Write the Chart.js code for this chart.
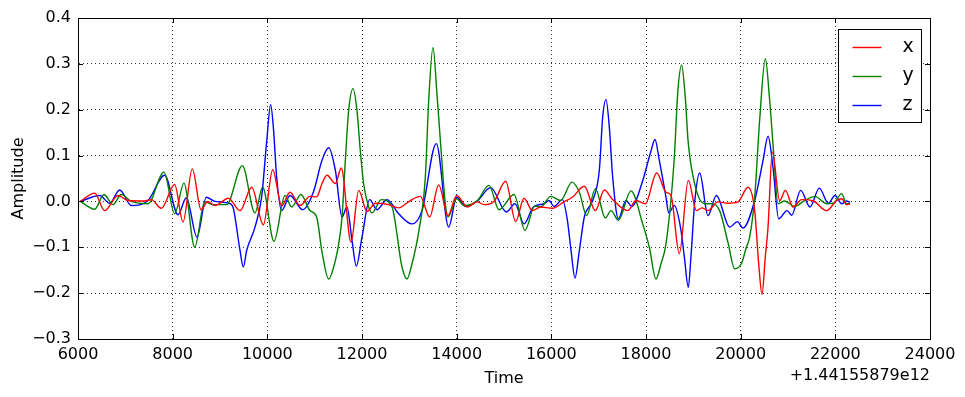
<!DOCTYPE html>
<html>
<head>
<meta charset="utf-8">
<script src="https://cdn.jsdelivr.net/npm/chart.js@4.4.0/dist/chart.umd.min.js"></script>
<style>
  html, body { margin: 0; padding: 0; background: #fff; }
  #wrap { width: 965px; height: 397px; position: relative; }
</style>
</head>
<body>
<div id="wrap"><canvas id="myChart"></canvas></div>
<script>
'use strict';

// time is in ms relative to the offset shown under the x axis
let timeOffsetLabel = '+1.44155879e12';

let xTickLabels = ['6000', '8000', '10000', '12000', '14000', '16000', '18000', '20000', '22000', '24000'];
let yTickLabels = ['\u22120.3', '\u22120.2', '\u22120.1', '0.0', '0.1', '0.2', '0.3', '0.4'];

let seriesNames = ['x', 'y', 'z'];
let seriesColors = ['#ff0000', '#008000', '#0000ff'];

let xTimes = [6050, 6352, 6563, 6845, 7056, 7408, 7549, 7760, 8042, 8218, 8415, 8600, 8740, 8894, 9176, 9423, 9669, 9916, 10113, 10303, 10479, 10690, 10901, 11042, 11155, 11261, 11437, 11563, 11768, 11930, 12106, 12282, 12563, 12775, 13021, 13232, 13430, 13620, 13817, 14000, 14225, 14437, 14578, 14789, 15035, 15247, 15423, 15599, 15775, 16021, 16268, 16444, 16697, 16930, 17120, 17296, 17613, 17789, 17986, 18225, 18423, 18528, 18704, 18894, 19064, 19180, 19310, 19521, 19733, 19944, 20155, 20296, 20381, 20451, 20521, 20578, 20669, 20824, 20944, 21106, 21289, 21535, 21817, 22028, 22134, 22239, 22310];
let xValues = [0, 0.018, -0.02, 0.013, 0.002, 0.001, 0.004, -0.015, 0.037, -0.045, 0.071, -0.018, 0.0, -0.009, 0.007, -0.02, 0.031, -0.051, 0.069, -0.009, 0.02, -0.009, 0.011, 0.01, 0.039, 0.057, 0.039, 0.073, -0.089, 0.024, -0.022, -0.004, -0.007, -0.014, 0.002, 0.011, -0.034, 0.036, -0.031, 0.013, -0.012, -0.001, -0.007, 0.0, 0.044, -0.044, 0.007, -0.02, -0.012, -0.015, -0.001, 0.009, 0.033, -0.02, 0.025, 0.004, -0.02, 0.002, -0.005, 0.062, 0.02, 0.013, -0.114, 0.046, -0.02, -0.014, -0.02, -0.001, -0.004, -0.001, 0.031, -0.02, -0.136, -0.203, -0.12, -0.056, 0.108, 0.002, 0.024, -0.012, 0.004, 0.001, -0.02, 0.002, 0.006, -0.007, -0.005];

let yTimes = [6050, 6352, 6549, 6739, 6915, 7127, 7479, 7817, 8042, 8239, 8465, 8676, 8859, 9141, 9472, 9739, 9901, 10141, 10373, 10514, 10711, 10901, 11042, 11155, 11296, 11437, 11508, 11578, 11648, 11718, 11810, 11894, 11965, 12035, 12141, 12211, 12408, 12634, 12845, 12951, 13056, 13197, 13338, 13409, 13500, 13584, 13676, 13761, 13817, 14000, 14155, 14437, 14683, 14894, 15211, 15444, 15648, 15775, 15986, 16197, 16437, 16592, 16747, 16930, 17141, 17261, 17416, 17683, 17930, 18070, 18211, 18317, 18423, 18599, 18669, 18753, 18824, 18894, 19064, 19240, 19380, 19556, 19733, 19873, 20014, 20120, 20190, 20296, 20401, 20521, 20613, 20683, 20789, 20930, 21141, 21352, 21570, 21817, 21958, 22134, 22239, 22310];
let yValues = [0, -0.017, 0.015, -0.007, 0.015, 0.0, -0.005, 0.064, -0.027, 0.04, -0.1, -0.001, -0.007, -0.007, 0.078, -0.025, 0.031, -0.087, 0.013, -0.012, 0.015, -0.02, -0.034, -0.11, -0.169, -0.129, -0.092, -0.034, 0.089, 0.198, 0.246, 0.198, 0.11, 0.038, -0.012, -0.025, 0.004, -0.012, -0.143, -0.169, -0.136, -0.067, 0.053, 0.22, 0.336, 0.234, 0.104, -0.005, -0.034, 0.006, -0.009, 0.002, 0.035, -0.018, 0.015, -0.063, -0.01, -0.012, 0.011, 0.002, 0.042, 0.02, -0.031, 0.028, -0.036, -0.02, -0.041, 0.023, -0.049, -0.1, -0.169, -0.136, -0.092, 0.097, 0.235, 0.297, 0.235, 0.126, 0.024, -0.005, -0.005, -0.02, -0.09, -0.147, -0.136, -0.1, -0.078, 0.009, 0.177, 0.311, 0.22, 0.125, -0.005, 0.001, -0.011, 0.002, 0.011, -0.005, -0.004, 0.017, -0.005, -0.004];

let zTimes = [6050, 6457, 6669, 6880, 7127, 7479, 7831, 8113, 8289, 8514, 8711, 8894, 9211, 9282, 9423, 9493, 9563, 9739, 9880, 9986, 10070, 10127, 10197, 10303, 10479, 10746, 10972, 11155, 11296, 11437, 11578, 11683, 11789, 11880, 12000, 12162, 12317, 12528, 12775, 13056, 13268, 13570, 13831, 14000, 14190, 14437, 14718, 15049, 15232, 15423, 15620, 15845, 15951, 16056, 16233, 16338, 16416, 16500, 16592, 16697, 16873, 17014, 17085, 17155, 17225, 17296, 17416, 17578, 17697, 17930, 18105, 18190, 18282, 18423, 18479, 18599, 18739, 18810, 18894, 18950, 19030, 19134, 19310, 19486, 19768, 19930, 20049, 20296, 20472, 20578, 20683, 20803, 20980, 21077, 21268, 21465, 21662, 21852, 21993, 22134, 22239, 22310];
let zValues = [0, 0.013, -0.004, 0.025, -0.009, 0.002, 0.057, -0.029, 0.008, -0.078, 0.009, 0.0, -0.005, -0.015, -0.107, -0.143, -0.107, -0.056, 0.01, 0.13, 0.211, 0.162, 0.053, -0.02, 0.013, -0.018, 0.02, 0.09, 0.117, 0.068, -0.034, -0.012, -0.085, -0.141, -0.078, 0.004, -0.018, 0.004, -0.027, -0.049, -0.02, 0.126, -0.056, 0.009, -0.011, 0.001, 0.03, -0.023, -0.005, -0.049, -0.012, -0.005, 0.002, -0.011, 0.004, -0.04, -0.107, -0.167, -0.107, -0.034, 0.002, 0.068, 0.184, 0.222, 0.162, 0.053, -0.038, 0.002, -0.011, 0.045, 0.11, 0.135, 0.089, 0.009, -0.025, -0.009, -0.063, -0.121, -0.187, -0.12, 0.0, 0.062, -0.031, 0.013, -0.056, -0.044, -0.058, 0.002, 0.089, 0.142, 0.075, -0.038, -0.02, -0.03, 0.024, -0.012, 0.029, -0.004, 0.013, -0.005, 0.001, -0.002];

let allTimes = [xTimes, yTimes, zTimes];
let allValues = [xValues, yValues, zValues];

function makePoints(times, values) {
  let pts = [];
  for (let i = 0; i < times.length; i++) {
    pts.push({ x: times[i], y: values[i] });
  }
  return pts;
}

let datasets = [];
for (let i = 0; i < seriesNames.length; i++) {
  datasets.push({
    label: seriesNames[i],
    data: makePoints(allTimes[i], allValues[i]),
    borderColor: seriesColors[i],
    backgroundColor: seriesColors[i],
    borderWidth: 1.4,
    pointRadius: 0,
    fill: false,
    cubicInterpolationMode: 'monotone'
  });
}

// frame with inward ticks on all sides, legend box, and the offset label
const framePlugin = {
  id: 'frame',
  afterDatasetsDraw(chart) {
    const ctx = chart.ctx;
    const area = chart.chartArea;
    const xs = chart.scales.x;
    const ys = chart.scales.y;
    const tickLen = 5;
    ctx.save();
    ctx.strokeStyle = '#000';
    ctx.lineWidth = 1;
    ctx.beginPath();
    xs.ticks.forEach(t => {
      const px = Math.round(xs.getPixelForValue(t.value)) + 0.5;
      ctx.moveTo(px, area.bottom);
      ctx.lineTo(px, area.bottom - tickLen);
      ctx.moveTo(px, area.top);
      ctx.lineTo(px, area.top + tickLen);
    });
    ys.ticks.forEach(t => {
      const py = Math.round(ys.getPixelForValue(t.value)) + 0.5;
      ctx.moveTo(area.left, py);
      ctx.lineTo(area.left + tickLen, py);
      ctx.moveTo(area.right, py);
      ctx.lineTo(area.right - tickLen, py);
    });
    ctx.stroke();
    ctx.strokeRect(Math.round(area.left) + 0.5, Math.round(area.top) + 0.5,
      Math.round(area.right - area.left), Math.round(area.bottom - area.top));

    // legend
    const boxW = 83, boxH = 93;
    const bx = Math.round(area.right - 9 - boxW) + 0.5;
    const by = Math.round(area.top + 11) + 0.5;
    ctx.fillStyle = '#fff';
    ctx.fillRect(bx, by, boxW, boxH);
    ctx.strokeRect(bx, by, boxW, boxH);
    ctx.font = '19px "DejaVu Sans"';
    ctx.textAlign = 'left';
    ctx.textBaseline = 'middle';
    chart.data.datasets.forEach((ds, i) => {
      const cy = Math.round(by + 17 + i * 29) + 0.5;
      ctx.strokeStyle = ds.borderColor;
      ctx.lineWidth = 1.4;
      ctx.beginPath();
      ctx.moveTo(bx + 14, cy);
      ctx.lineTo(bx + 43, cy);
      ctx.stroke();
      ctx.fillStyle = '#000';
      ctx.fillText(ds.label, bx + 64, cy);
    });

    ctx.font = '16px "DejaVu Sans"';
    ctx.textAlign = 'right';
    ctx.textBaseline = 'middle';
    ctx.fillStyle = '#000';
    ctx.fillText(timeOffsetLabel, area.right, area.bottom + 37);
    ctx.restore();
  }
};

Chart.defaults.font.family = '"DejaVu Sans"';
Chart.defaults.color = '#000';

const myChart = new Chart(document.getElementById('myChart'), {
  type: 'line',
  data: { datasets: datasets },
  options: {
    responsive: true,
    maintainAspectRatio: false,
    animation: false,
    layout: { padding: { left: 0, right: 35, top: 18, bottom: 0 } },
    plugins: {
      legend: { display: false },
      tooltip: { enabled: false }
    },
    scales: {
      x: {
        type: 'linear',
        min: 6000,
        max: 24000,
        afterFit: scale => { scale.height = 58; },
        ticks: {
          stepSize: 2000,
          autoSkip: false,
          maxRotation: 0,
          padding: 6,
          font: { size: 16 },
          callback: (v, i) => xTickLabels[i]
        },
        grid: { color: 'rgba(0,0,0,0.8)', lineWidth: 1, drawTicks: false },
        border: { display: true, color: '#000', dash: [1, 3] },
        title: { display: true, text: 'Time', font: { size: 16 }, padding: { top: 0, bottom: 9 } }
      },
      y: {
        type: 'linear',
        min: -0.3,
        max: 0.4,
        afterFit: scale => { scale.width = 78; },
        ticks: {
          stepSize: 0.1,
          padding: 7,
          font: { size: 16 },
          callback: (v, i) => yTickLabels[i]
        },
        grid: { color: 'rgba(0,0,0,0.8)', lineWidth: 1, drawTicks: false },
        border: { display: true, color: '#000', dash: [1, 3] },
        title: { display: true, text: 'Amplitude', font: { size: 16 }, padding: { top: 9, bottom: 0 } }
      }
    }
  },
  plugins: [framePlugin]
});
</script>
</body>
</html>
